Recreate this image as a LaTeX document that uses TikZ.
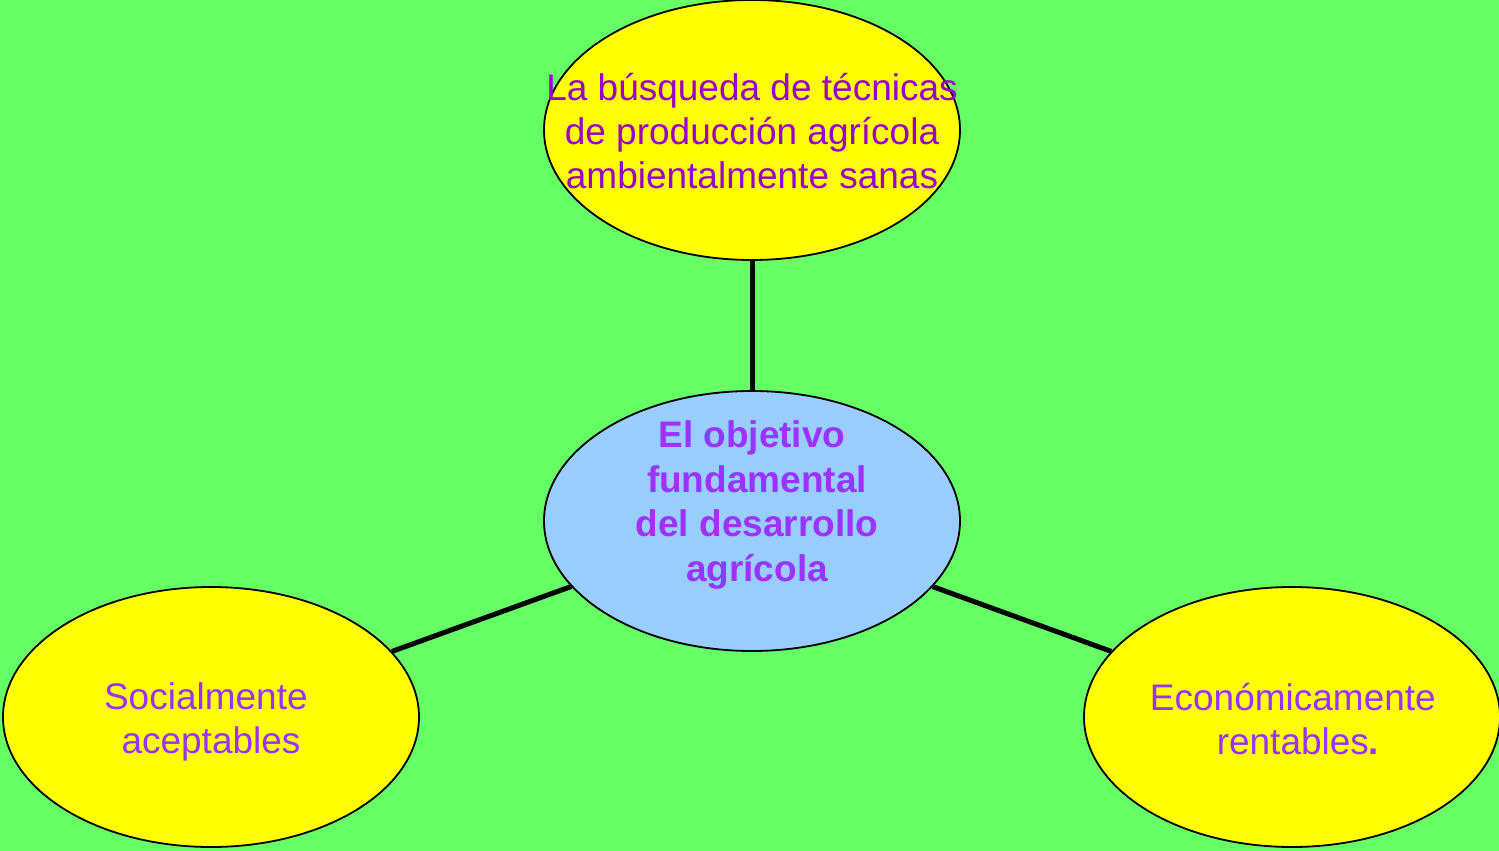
\documentclass[tikz,border=0pt]{standalone}
\usepackage{fontspec}
\setmainfont{Liberation Sans}
\usetikzlibrary{shapes.geometric}
\definecolor{bggreen}{HTML}{66FF66}
\definecolor{bubyellow}{HTML}{FFFF00}
\definecolor{hubblue}{HTML}{99CCFF}
\definecolor{txtpurple}{HTML}{9933FF}
\definecolor{toppurple}{HTML}{9900CC}
\tikzset{
	bubble/.style={ellipse, draw=black, line width=1.8pt, fill=bubyellow,
		minimum width=416pt, minimum height=260pt, inner sep=0pt},
	lbl/.style={align=center, inner sep=0pt, text=txtpurple,
		font=\fontsize{37}{44}\selectfont},
	link/.style={line width=5pt, black}
}
\begin{document}
\begin{tikzpicture}[x=1pt,y=-1pt]
				\fill[bggreen] (0,0) rectangle (1499,851);
				\useasboundingbox (0,0) rectangle (1499,851);
				\coordinate (T) at (752,130);
				\coordinate (M) at (752,521);
				\coordinate (L) at (211,717);
				\coordinate (R) at (1292,717);
				\node [bubble] (top) at (T) {};
				\node [bubble, fill=hubblue] (hub) at (M) {};
				\node [bubble] (left) at (L) {};
				\node [bubble] (right) at (R) {};
				\draw [link] (hub) -- (top);
				\draw [link] (hub) -- (left);
				\draw [link] (hub) -- (right);
				%\draw [dashed] (top) -- (left);
				\node [lbl, text=toppurple] (toptxt) at (752,131) {La búsqueda de técnicas\\de producción agrícola\\ambientalmente sanas};
				\node [lbl, font=\fontsize{37}{44.5}\selectfont\bfseries] (hubtxt) at (757,505) {El objetivo\hphantom{\ }\\fundamental\\del desarrollo\\agrícola};
				\node [lbl] (lefttxt) at (211,722) {Socialmente\hphantom{\ }\\aceptables};
				\node [lbl] (righttxt) at (1298,719) {Económicamente\hphantom{\ }\\rentables\textbf{.}};
\end{tikzpicture}
\end{document}
